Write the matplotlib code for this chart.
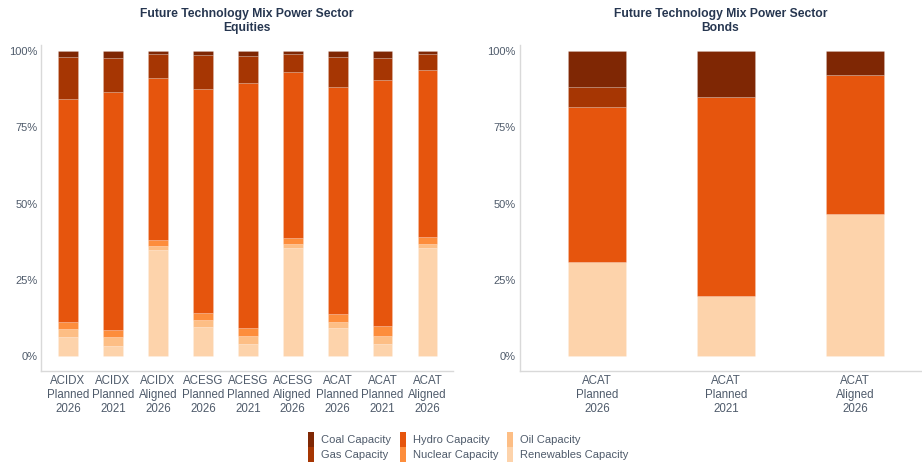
import numpy as np
import matplotlib
matplotlib.use("Agg")
import matplotlib.pyplot as plt

plt.rcParams['font.family'] = ['Liberation Sans', 'DejaVu Sans']

# categories
eq_labels = ["ACIDX\nPlanned\n2026", "ACIDX\nPlanned\n2021", "ACIDX\nAligned\n2026",
             "ACESG\nPlanned\n2026", "ACESG\nPlanned\n2021", "ACESG\nAligned\n2026",
             "ACAT\nPlanned\n2026", "ACAT\nPlanned\n2021", "ACAT\nAligned\n2026"]
bd_labels = ["ACAT\nPlanned\n2026", "ACAT\nPlanned\n2021", "ACAT\nAligned\n2026"]

techs = ["Coal Capacity", "Gas Capacity", "Hydro Capacity",
         "Nuclear Capacity", "Oil Capacity", "Renewables Capacity"]
colors = ["#7f2704", "#a63603", "#e6550d", "#fd8d3c", "#fdbe85", "#fdd3ab"]

# equities shares (%)
eq_coal = [1.9, 2.1, 1.1, 1.4, 1.6, 1.0, 2.0, 2.2, 1.1]
eq_gas = [13.9, 11.3, 7.7, 10.9, 8.9, 5.9, 9.7, 7.3, 5.0]
eq_hydro = [73.1, 77.9, 53.0, 73.6, 80.2, 54.5, 74.4, 80.7, 54.9]
eq_nuclear = [2.2, 2.5, 2.0, 2.2, 2.7, 2.0, 2.6, 3.1, 2.3]
eq_oil = [2.7, 3.0, 1.3, 2.4, 2.6, 1.3, 2.2, 2.6, 1.3]
eq_renew = [6.2, 3.2, 34.9, 9.5, 4.0, 35.3, 9.1, 4.1, 35.4]

# bonds shares (%)
bd_coal = [11.7, 15.0, 7.9]
bd_gas = [6.6, 0.0, 0.0]
bd_hydro = [51.0, 65.3, 45.5]
bd_nuclear = [0.0, 0.0, 0.0]
bd_oil = [0.0, 0.0, 0.0]
bd_renew = [30.7, 19.7, 46.6]

title_c = "#263650"
tick_c = "#4f5b6b"
spine_c = "#d9d9d9"

fig = plt.figure(figsize=(9.22, 4.67), dpi=100)
ax1 = fig.add_axes([0.045, 0.2056, 0.446, 0.698])
ax2 = fig.add_axes([0.564, 0.2056, 0.435, 0.698])


def draw(ax, labels, series, width, xlim, title):
    x = np.arange(len(labels))
    # stack from the bottom: renewables, oil, nuclear, hydro, gas, coal
    bottom = np.zeros(len(labels))
    handles = {}
    for i in range(len(series) - 1, -1, -1):
        vals = np.array(series[i]) / 100.0
        b = ax.bar(x, vals, width, bottom=bottom, color=colors[i],
                   edgecolor=(1, 1, 1, 0.22), linewidth=0.5, label=techs[i])
        handles[i] = b
        bottom += vals
    ax.set_xlim(*xlim)
    ax.set_ylim(-0.049, 1.02)
    ax.set_xticks(x)
    ax.set_xticklabels(labels, fontsize=8.3, color=tick_c, linespacing=1.22)
    ax.set_yticks([0, 0.25, 0.5, 0.75, 1.0])
    ax.set_yticklabels(["0%", "25%", "50%", "75%", "100%"], fontsize=8, color=tick_c)
    ax.tick_params(length=0, pad=3)
    for s in ["top", "right"]:
        ax.spines[s].set_visible(False)
    for s in ["left", "bottom"]:
        ax.spines[s].set_color(spine_c)
        ax.spines[s].set_linewidth(1)
    ax.set_title(title, fontsize=8.7, fontweight="bold", color=title_c,
                 linespacing=1.2, pad=10)
    return handles


h = draw(ax1, eq_labels,
         [eq_coal, eq_gas, eq_hydro, eq_nuclear, eq_oil, eq_renew],
         0.44, (-0.59, 8.56), "Future Technology Mix Power Sector\nEquities")
draw(ax2, bd_labels,
     [bd_coal, bd_gas, bd_hydro, bd_nuclear, bd_oil, bd_renew],
     0.45, (-0.597, 2.51), "Future Technology Mix Power Sector\nBonds")

leg = fig.legend([h[i] for i in range(6)], techs, ncol=3, loc="center",
                 bbox_to_anchor=(0.508, 0.043), frameon=False, fontsize=8,
                 handlelength=0.55, handleheight=1.75, handletextpad=0.6,
                 labelspacing=0.0, columnspacing=0.8, labelcolor=tick_c)
for p in leg.get_patches():
    p.set_edgecolor("none")

fig.savefig("out.png", dpi=100)
